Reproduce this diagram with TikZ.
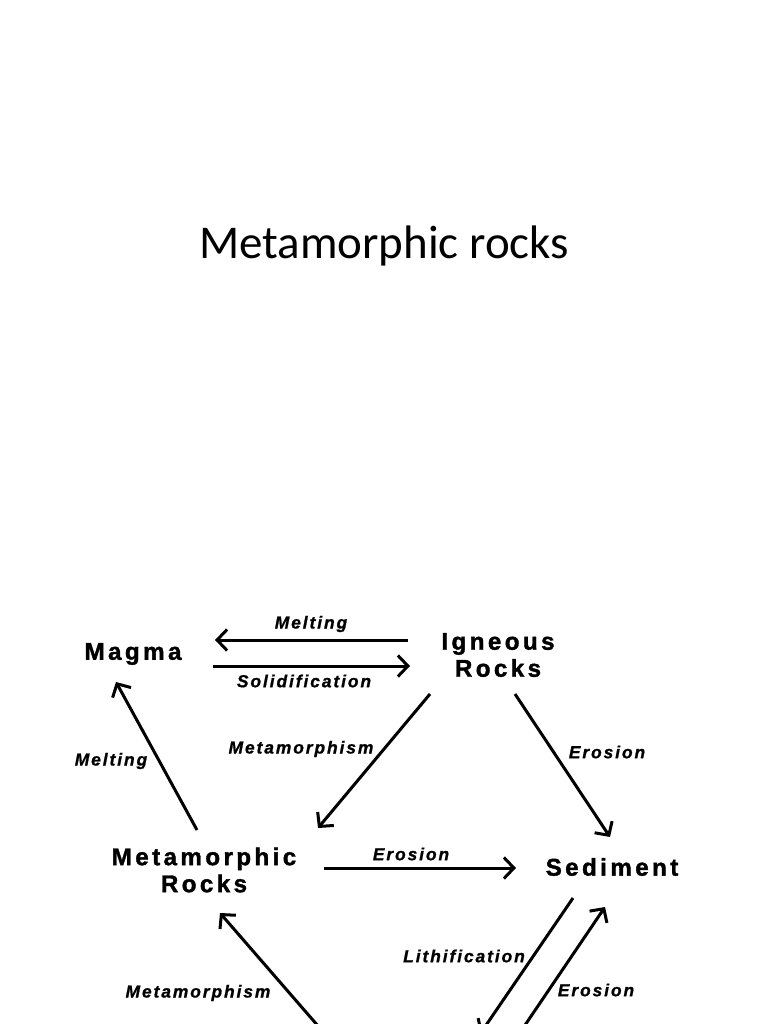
\documentclass[tikz,border=0pt]{standalone}
\usepackage{fontspec}
\usetikzlibrary{arrows.meta}
\newfontfamily\titlefont{Carlito}
\newfontfamily\rockfont{Liberation Sans Bold}[LetterSpace=14,FakeBold=1.5]
\newfontfamily\procfont{Liberation Sans Bold Italic}[LetterSpace=11,FakeBold=1]
\begin{document}
\begin{tikzpicture}[
	x=1pt,y=-1pt,
	rock/.style={font={\rockfont\fontsize{24.2}{27}\selectfont},align=center,inner sep=0pt},
	proc/.style={font={\procfont\fontsize{17.4}{20}\selectfont},inner sep=0pt},
	arr/.style={line width=3pt,-{Straight Barb[length=10pt,width=21pt]}}
	]
	\useasboundingbox (0,0) rectangle (768,1024);
	\clip (0,0) rectangle (768,1024);
	
	\node[font={\titlefont\fontsize{47}{56}\selectfont}] (title) at (384,246) {Metamorphic rocks};
	
	% rocks
	\node[rock] (mag) at (133,654) {Magma};
	\node[rock] (ign) at (498,655) {Igneous\\Rocks};
	\node[rock] (met) at (204,870) {Metamorphic\\Rocks};
	\node[rock] (sed) at (612,867) {Sediment};
	\coordinate (metin) at (325,1034);
	\coordinate (lithout) at (480,1034);
	\coordinate (erin) at (519,1034);
	
	% processes
	\draw[arr] ([shift={(-90,-15)}]ign.center) -- ([shift={(82,-14)}]mag.center);
	\draw[arr] ([shift={(80,12)}]mag.center) -- ([shift={(-88,11)}]ign.center);
	\draw[arr] ([shift={(-7,-40)}]met.center) -- ([shift={(-17,28)}]mag.center);
	\draw[arr] ([shift={(-68,39)}]ign.center) -- ([shift={(114,-42)}]met.center);
	\draw[arr] ([shift={(17,39)}]ign.center) -- ([shift={(-2,-30)}]sed.center);
	\draw[arr] ([shift={(120,-2)}]met.center) -- ([shift={(-96,1)}]sed.center);
	\draw[arr] (metin) -- ([shift={(16,43)}]met.center);
	\draw[arr] ([shift={(-39,31)}]sed.center) -- (lithout);
	\draw[arr] (erin) -- ([shift={(-7,40)}]sed.center);
	
	\node[proc] (l1) at (311,624) {Melting};
	\node[proc] (l2) at (304,681) {Solidification};
	\node[proc] (l3) at (111,761) {Melting};
	\node[proc] (l4) at (301,749) {Metamorphism};
	\node[proc] (l5) at (607,752) {Erosion};
	\node[proc] (l6) at (411,854) {Erosion};
	\node[proc] (l7) at (198,993) {Metamorphism};
	\node[proc] (l8) at (464,956) {Lithification};
	\node[proc] (l9) at (596,990) {Erosion};
\end{tikzpicture}
\end{document}
